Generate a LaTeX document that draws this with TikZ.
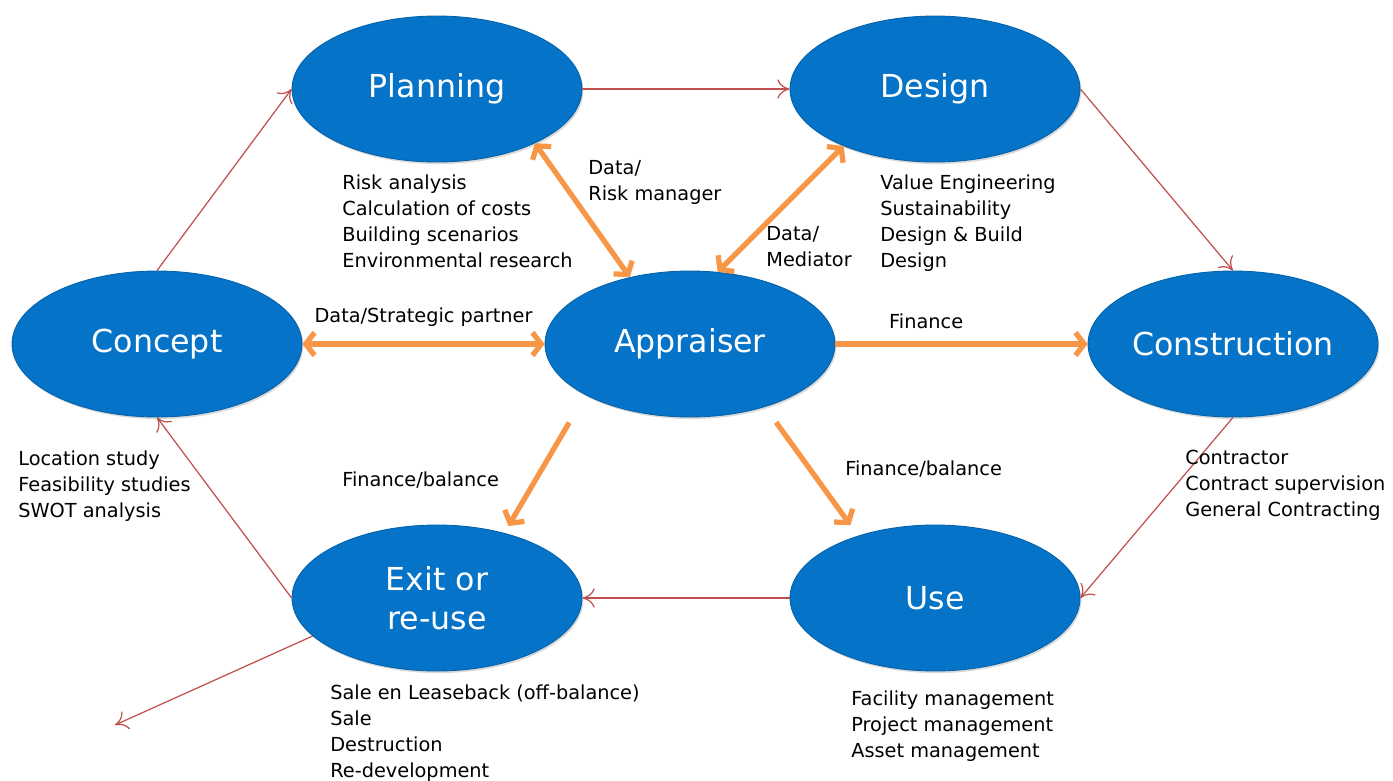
\documentclass[tikz,border=0pt]{standalone}
\usepackage{fontspec}
\setmainfont{DejaVu Sans}
\usetikzlibrary{arrows.meta,shapes.geometric,shadows}
\definecolor{phaseblue}{RGB}{5,115,200}
\definecolor{cyclered}{RGB}{192,80,77}
\definecolor{moneyorange}{RGB}{247,150,70}
\tikzset{
  phase/.style={ellipse,fill=phaseblue,draw=phaseblue!85!black,line width=0.5pt,inner sep=0pt,minimum width=5.8cm,minimum height=2.92cm,
    text=white,align=center,font=\fontsize{18}{22}\selectfont,
    drop shadow={opacity=0.3,shadow xshift=0.8pt,shadow yshift=-1.2pt}},
  cycle/.style={draw=cyclered,line width=0.7pt,-{To[length=7pt,width=11pt]}},
  money/.style={draw=moneyorange,line width=3pt,-{Straight Barb[length=5pt,width=13pt]}},
  notes/.style={anchor=north west,align=left,inner sep=0pt,font=\fontsize{11}{14.8}\selectfont}
}
\begin{document}
\begin{tikzpicture}[x=0.02cm,y=-0.02cm]
\useasboundingbox (0,0) rectangle (1393,781);
\node[phase] (planning) at (437,89) {Planning};
\node[phase] (design) at (935,89) {Design};
\node[phase] (concept) at (157,344) {Concept};
\node[phase] (appraiser) at (690,344) {Appraiser};
\node[phase] (construction) at (1233,344) {Construction};
\node[phase] (exit) at (437,598) {Exit or\\re-use};
\node[phase] (use) at (935,598) {Use};
\coordinate (away) at (115,725);

\draw[cycle] (concept.north) -- (planning.west);
\draw[cycle] (planning.east) -- (design.west);
\draw[cycle] (design.east) -- (construction.north);
\draw[cycle] (construction.south) -- (use.east);
\draw[cycle] (use.west) -- (exit.east);
\draw[cycle] (exit.west) -- (concept.south);
\draw[cycle] (exit.197) -- (away);

\draw[money,{Straight Barb[length=5pt,width=13pt]}-{Straight Barb[length=5pt,width=13pt]}] (planning.-29) -- (appraiser.132);
\draw[money,{Straight Barb[length=5pt,width=13pt]}-{Straight Barb[length=5pt,width=13pt]}] (design.212) -- (appraiser.69);
\draw[money,{Straight Barb[length=5pt,width=13pt]}-{Straight Barb[length=5pt,width=13pt]}] (concept.east) -- node[above=5pt,font=\fontsize{11}{14.8}\selectfont] (strategic) {Data/Strategic partner} (appraiser.west);
\draw[money] (appraiser.east) -- node[above=4pt,pos=0.36,font=\fontsize{11}{14.8}\selectfont] (finance) {Finance} (construction.west);
\draw[money,shorten <=0.64cm,shorten >=0.16cm] (appraiser.206) -- (exit.44);
\draw[money,shorten <=0.38cm,shorten >=0.26cm] (appraiser.320) -- (use.141);

\node[notes] (planningnotes) at (342,174) {Risk analysis\\Calculation of costs\\Building scenarios\\Environmental research};
\node[notes] (risknote) at (588,160) {Data/\\Risk manager};
\node[notes] (mediatornote) at (766,226) {Data/\\Mediator};
\node[notes] (designnotes) at (880,174) {Value Engineering\\Sustainability\\Design \& Build\\Design};
\node[notes] (conceptnotes) at (18,450) {Location study\\Feasibility studies\\SWOT analysis};
\node[notes] (exitbalance) at (342,471) {Finance/balance};
\node[notes] (usebalance) at (845,460) {Finance/balance};
\node[notes] (constructionnotes) at (1185,450) {Contractor\\Contract supervision\\General Contracting};
\node[notes] (exitnotes) at (330,684) {Sale en Leaseback (off-balance)\\Sale\\Destruction\\Re-development};
\node[notes] (usenotes) at (851,690) {Facility management\\Project management\\Asset management};
\end{tikzpicture}
\end{document}
